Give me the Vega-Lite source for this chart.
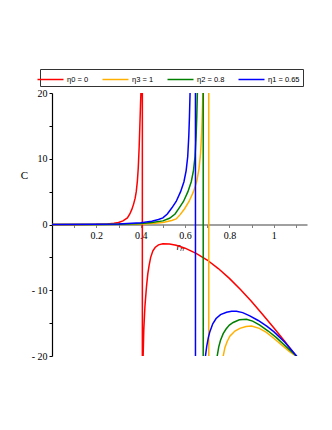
{
"$schema": "https://vega.github.io/schema/vega-lite/v6.json",
"width": 255, "height": 263,
"autosize": "none",
"padding": {"left": 52, "top": 93, "right": 25, "bottom": 74},
"background": "white",
"config": {"view": {"stroke": null}},
"data": {"values": [
{"s":"η0 = 0","o":1,"x":0,"C":0},{"s":"η0 = 0","o":2,"x":0.1,"C":0},{"s":"η0 = 0","o":3,"x":0.2,"C":0.02},{"s":"η0 = 0","o":4,"x":0.25,"C":0.08},{"s":"η0 = 0","o":5,"x":0.28,"C":0.18},{"s":"η0 = 0","o":6,"x":0.3,"C":0.3},{"s":"η0 = 0","o":7,"x":0.32,"C":0.55},{"s":"η0 = 0","o":8,"x":0.34,"C":1.0},{"s":"η0 = 0","o":9,"x":0.351,"C":1.6},{"s":"η0 = 0","o":10,"x":0.36,"C":2.3},{"s":"η0 = 0","o":11,"x":0.368,"C":3.1},{"s":"η0 = 0","o":12,"x":0.375,"C":4.0},{"s":"η0 = 0","o":13,"x":0.38,"C":5.0},{"s":"η0 = 0","o":14,"x":0.385,"C":6.6},{"s":"η0 = 0","o":15,"x":0.389,"C":8.6},{"s":"η0 = 0","o":16,"x":0.393,"C":11.7},{"s":"η0 = 0","o":17,"x":0.396,"C":14.8},{"s":"η0 = 0","o":18,"x":0.399,"C":18},{"s":"η0 = 0","o":19,"x":0.401,"C":20},{"s":"η0 = 0","o":20,"x":0.404,"C":30},{"s":"η0 = 0","o":21,"x":0.407,"C":300},{"s":"η0 = 0","o":22,"x":0.408,"C":-300},{"s":"η0 = 0","o":23,"x":0.411,"C":-20},{"s":"η0 = 0","o":24,"x":0.414,"C":-16},{"s":"η0 = 0","o":25,"x":0.419,"C":-12.5},{"s":"η0 = 0","o":26,"x":0.426,"C":-9.5},{"s":"η0 = 0","o":27,"x":0.432,"C":-7.5},{"s":"η0 = 0","o":28,"x":0.438,"C":-6.2},{"s":"η0 = 0","o":29,"x":0.445,"C":-5.0},{"s":"η0 = 0","o":30,"x":0.455,"C":-4.0},{"s":"η0 = 0","o":31,"x":0.465,"C":-3.5},{"s":"η0 = 0","o":32,"x":0.48,"C":-3.1},{"s":"η0 = 0","o":33,"x":0.5,"C":-2.93},{"s":"η0 = 0","o":34,"x":0.53,"C":-2.95},{"s":"η0 = 0","o":35,"x":0.56,"C":-3.15},{"s":"η0 = 0","o":36,"x":0.6,"C":-3.6},{"s":"η0 = 0","o":37,"x":0.65,"C":-4.4},{"s":"η0 = 0","o":38,"x":0.7,"C":-5.4},{"s":"η0 = 0","o":39,"x":0.75,"C":-6.7},{"s":"η0 = 0","o":40,"x":0.8,"C":-8.2},{"s":"η0 = 0","o":41,"x":0.85,"C":-9.9},{"s":"η0 = 0","o":42,"x":0.9,"C":-11.7},{"s":"η0 = 0","o":43,"x":0.95,"C":-13.7},{"s":"η0 = 0","o":44,"x":1.0,"C":-15.7},{"s":"η0 = 0","o":45,"x":1.05,"C":-17.8},{"s":"η0 = 0","o":46,"x":1.1,"C":-19.95},{"s":"η0 = 0","o":47,"x":1.12,"C":-20.8},
{"s":"η3 = 1","o":48,"x":0,"C":0},{"s":"η3 = 1","o":49,"x":0.2,"C":0},{"s":"η3 = 1","o":50,"x":0.3,"C":0.02},{"s":"η3 = 1","o":51,"x":0.4,"C":0.08},{"s":"η3 = 1","o":52,"x":0.45,"C":0.15},{"s":"η3 = 1","o":53,"x":0.5,"C":0.3},{"s":"η3 = 1","o":54,"x":0.54,"C":0.6},{"s":"η3 = 1","o":55,"x":0.56,"C":0.85},{"s":"η3 = 1","o":56,"x":0.578,"C":1.5},{"s":"η3 = 1","o":57,"x":0.598,"C":2.4},{"s":"η3 = 1","o":58,"x":0.618,"C":3.5},{"s":"η3 = 1","o":59,"x":0.638,"C":5.0},{"s":"η3 = 1","o":60,"x":0.653,"C":6.6},{"s":"η3 = 1","o":61,"x":0.663,"C":8.5},{"s":"η3 = 1","o":62,"x":0.67,"C":10.8},{"s":"η3 = 1","o":63,"x":0.675,"C":14},{"s":"η3 = 1","o":64,"x":0.678,"C":17},{"s":"η3 = 1","o":65,"x":0.681,"C":20.5},{"s":"η3 = 1","o":66,"x":0.69,"C":40},{"s":"η3 = 1","o":67,"x":0.706,"C":300},{"s":"η3 = 1","o":68,"x":0.708,"C":-300},{"s":"η3 = 1","o":69,"x":0.74,"C":-40},{"s":"η3 = 1","o":70,"x":0.765,"C":-22},{"s":"η3 = 1","o":71,"x":0.772,"C":-20},{"s":"η3 = 1","o":72,"x":0.78,"C":-18.7},{"s":"η3 = 1","o":73,"x":0.79,"C":-17.8},{"s":"η3 = 1","o":74,"x":0.802,"C":-17.0},{"s":"η3 = 1","o":75,"x":0.825,"C":-16.2},{"s":"η3 = 1","o":76,"x":0.847,"C":-15.8},{"s":"η3 = 1","o":77,"x":0.875,"C":-15.5},{"s":"η3 = 1","o":78,"x":0.9,"C":-15.45},{"s":"η3 = 1","o":79,"x":0.935,"C":-15.8},{"s":"η3 = 1","o":80,"x":0.967,"C":-16.4},{"s":"η3 = 1","o":81,"x":1.0,"C":-17.3},{"s":"η3 = 1","o":82,"x":1.042,"C":-18.5},{"s":"η3 = 1","o":83,"x":1.07,"C":-19.3},{"s":"η3 = 1","o":84,"x":1.1,"C":-20},{"s":"η3 = 1","o":85,"x":1.12,"C":-20.5},
{"s":"η2 = 0.8","o":86,"x":0,"C":0},{"s":"η2 = 0.8","o":87,"x":0.2,"C":0.01},{"s":"η2 = 0.8","o":88,"x":0.3,"C":0.05},{"s":"η2 = 0.8","o":89,"x":0.4,"C":0.15},{"s":"η2 = 0.8","o":90,"x":0.45,"C":0.3},{"s":"η2 = 0.8","o":91,"x":0.5,"C":0.55},{"s":"η2 = 0.8","o":92,"x":0.53,"C":0.95},{"s":"η2 = 0.8","o":93,"x":0.555,"C":1.6},{"s":"η2 = 0.8","o":94,"x":0.573,"C":2.5},{"s":"η2 = 0.8","o":95,"x":0.593,"C":3.5},{"s":"η2 = 0.8","o":96,"x":0.613,"C":5.0},{"s":"η2 = 0.8","o":97,"x":0.628,"C":6.5},{"s":"η2 = 0.8","o":98,"x":0.638,"C":8.2},{"s":"η2 = 0.8","o":99,"x":0.645,"C":10.3},{"s":"η2 = 0.8","o":100,"x":0.65,"C":13.5},{"s":"η2 = 0.8","o":101,"x":0.653,"C":16.5},{"s":"η2 = 0.8","o":102,"x":0.656,"C":20.5},{"s":"η2 = 0.8","o":103,"x":0.663,"C":40},{"s":"η2 = 0.8","o":104,"x":0.681,"C":300},{"s":"η2 = 0.8","o":105,"x":0.683,"C":-300},{"s":"η2 = 0.8","o":106,"x":0.715,"C":-40},{"s":"η2 = 0.8","o":107,"x":0.74,"C":-22},{"s":"η2 = 0.8","o":108,"x":0.745,"C":-20},{"s":"η2 = 0.8","o":109,"x":0.752,"C":-18.6},{"s":"η2 = 0.8","o":110,"x":0.76,"C":-17.6},{"s":"η2 = 0.8","o":111,"x":0.772,"C":-16.6},{"s":"η2 = 0.8","o":112,"x":0.785,"C":-15.9},{"s":"η2 = 0.8","o":113,"x":0.8,"C":-15.3},{"s":"η2 = 0.8","o":114,"x":0.817,"C":-14.9},{"s":"η2 = 0.8","o":115,"x":0.845,"C":-14.5},{"s":"η2 = 0.8","o":116,"x":0.877,"C":-14.4},{"s":"η2 = 0.8","o":117,"x":0.905,"C":-14.7},{"s":"η2 = 0.8","o":118,"x":0.937,"C":-15.3},{"s":"η2 = 0.8","o":119,"x":0.975,"C":-16.2},{"s":"η2 = 0.8","o":120,"x":1.012,"C":-17.2},{"s":"η2 = 0.8","o":121,"x":1.06,"C":-18.7},{"s":"η2 = 0.8","o":122,"x":1.1,"C":-19.95},{"s":"η2 = 0.8","o":123,"x":1.12,"C":-20.6},
{"s":"η1 = 0.65","o":124,"x":0,"C":0},{"s":"η1 = 0.65","o":125,"x":0.2,"C":0.02},{"s":"η1 = 0.65","o":126,"x":0.3,"C":0.08},{"s":"η1 = 0.65","o":127,"x":0.4,"C":0.25},{"s":"η1 = 0.65","o":128,"x":0.45,"C":0.5},{"s":"η1 = 0.65","o":129,"x":0.48,"C":0.75},{"s":"η1 = 0.65","o":130,"x":0.5,"C":1.0},{"s":"η1 = 0.65","o":131,"x":0.52,"C":1.6},{"s":"η1 = 0.65","o":132,"x":0.54,"C":2.5},{"s":"η1 = 0.65","o":133,"x":0.56,"C":3.5},{"s":"η1 = 0.65","o":134,"x":0.58,"C":5.0},{"s":"η1 = 0.65","o":135,"x":0.595,"C":6.5},{"s":"η1 = 0.65","o":136,"x":0.605,"C":8.2},{"s":"η1 = 0.65","o":137,"x":0.612,"C":10.3},{"s":"η1 = 0.65","o":138,"x":0.617,"C":13.5},{"s":"η1 = 0.65","o":139,"x":0.62,"C":16.5},{"s":"η1 = 0.65","o":140,"x":0.623,"C":20.5},{"s":"η1 = 0.65","o":141,"x":0.63,"C":40},{"s":"η1 = 0.65","o":142,"x":0.646,"C":300},{"s":"η1 = 0.65","o":143,"x":0.648,"C":-300},{"s":"η1 = 0.65","o":144,"x":0.67,"C":-40},{"s":"η1 = 0.65","o":145,"x":0.688,"C":-23},{"s":"η1 = 0.65","o":146,"x":0.692,"C":-20},{"s":"η1 = 0.65","o":147,"x":0.698,"C":-18.5},{"s":"η1 = 0.65","o":148,"x":0.705,"C":-17.2},{"s":"η1 = 0.65","o":149,"x":0.712,"C":-16.3},{"s":"η1 = 0.65","o":150,"x":0.725,"C":-15.1},{"s":"η1 = 0.65","o":151,"x":0.74,"C":-14.3},{"s":"η1 = 0.65","o":152,"x":0.76,"C":-13.7},{"s":"η1 = 0.65","o":153,"x":0.787,"C":-13.35},{"s":"η1 = 0.65","o":154,"x":0.81,"C":-13.2},{"s":"η1 = 0.65","o":155,"x":0.832,"C":-13.2},{"s":"η1 = 0.65","o":156,"x":0.86,"C":-13.4},{"s":"η1 = 0.65","o":157,"x":0.892,"C":-13.9},{"s":"η1 = 0.65","o":158,"x":0.93,"C":-14.6},{"s":"η1 = 0.65","o":159,"x":0.97,"C":-15.5},{"s":"η1 = 0.65","o":160,"x":1.0,"C":-16.3},{"s":"η1 = 0.65","o":161,"x":1.05,"C":-17.9},{"s":"η1 = 0.65","o":162,"x":1.1,"C":-19.9},{"s":"η1 = 0.65","o":163,"x":1.12,"C":-20.7}
]},
"mark": {"type": "line", "clip": true, "strokeWidth": 1.5},
"encoding": {
  "x": {"field": "x", "type": "quantitative",
    "scale": {"domain": [0, 1.15], "nice": false, "zero": false},
    "axis": {"offset": -131.5, "grid": false, "values": [0.1,0.2,0.3,0.4,0.5,0.6,0.7,0.8,0.9,1,1.1],
      "format": "~g", "labelExpr": "abs(datum.value*5 - round(datum.value*5)) < 0.001 ? datum.label : ''",
      "domainColor": "#808080", "domainWidth": 1.5, "tickColor": "#808080", "tickSize": 3,
      "labelFont": "Liberation Serif", "labelFontSize": 10, "labelColor": "black", "labelPadding": 3,
      "title": "rₕ", "titleX": 128, "titleY": 22, "titleFont": "Liberation Serif", "titleFontStyle": "italic",
      "titleFontWeight": "normal", "titleFontSize": 10, "titleColor": "black", "titleBaseline": "middle"}},
  "y": {"field": "C", "type": "quantitative",
    "scale": {"domain": [-20, 20], "nice": false},
    "axis": {"grid": false, "values": [-20,-15,-10,-5,0,5,10,15,20],
      "labelExpr": "datum.value % 10 != 0 ? '' : (datum.value < 0 ? '- ' + abs(datum.value) : datum.label)",
      "domainColor": "black", "domainWidth": 1.2, "tickColor": "black", "tickSize": 3,
      "labelFont": "Liberation Serif", "labelFontSize": 10, "labelColor": "black", "labelPadding": 2,
      "title": "C", "titleAngle": 0, "titleX": -28, "titleY": 82, "titleFont": "Liberation Serif",
      "titleFontWeight": "normal", "titleFontSize": 11, "titleColor": "black", "titleAlign": "center", "titleBaseline": "middle"}},
  "color": {"field": "s", "type": "nominal",
    "scale": {"domain": ["η0 = 0","η3 = 1","η2 = 0.8","η1 = 0.65"], "range": ["#ff0000","#ffb000","#008000","#0000ff"]},
    "legend": {"orient": "none", "legendX": -12, "legendY": -24, "direction": "horizontal", "title": null,
      "strokeColor": "#333333", "fillColor": "white", "padding": 3, "symbolType": "M-2,0H2", "symbolSize": 169,
      "symbolStrokeWidth": 1.5, "labelFont": "Liberation Sans", "labelFontSize": 7.5, "labelOffset": 9,
      "columnPadding": 10, "labelColor": "black"}},
  "order": {"field": "o", "type": "quantitative"}
}
}
